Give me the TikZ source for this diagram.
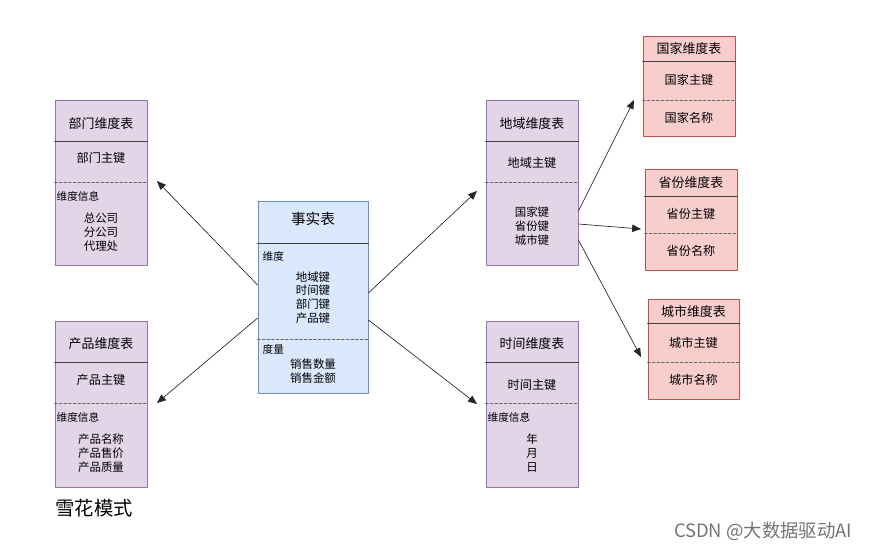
\documentclass[tikz,border=0pt]{standalone}
\usepackage{fontspec}
\setmainfont{Noto Sans CJK SC}
\usetikzlibrary{arrows,fit}

\definecolor{purplefill}{HTML}{E1D5E7}
\definecolor{purpleline}{HTML}{9673A6}
\definecolor{bluefill}{HTML}{DAE8FC}
\definecolor{blueline}{HTML}{6C8EBF}
\definecolor{redfill}{HTML}{F8CECC}
\definecolor{redline}{HTML}{B85450}

\newcommand\hdfont{\fontsize{9.7}{11}\selectfont}
\newcommand\keyfont{\fontsize{9.1}{10.5}\selectfont}
\newcommand\itemfont{\fontsize{8.6}{10.3}\selectfont}
\newcommand\infofont{\fontsize{8}{9.5}\selectfont}

\tikzset{
  dimbox/.style={draw=purpleline,fill=purplefill,line width=0.6pt,inner sep=0pt},
  factbox/.style={draw=blueline,fill=bluefill,line width=0.6pt,inner sep=0pt},
  subbox/.style={draw=redline,fill=redfill,line width=0.6pt,inner sep=0pt},
  sepline/.style={line width=0.6pt,color=black!75},
  dashline/.style={line width=0.6pt,color=black!60,dash pattern=on 2pt off 1.5pt},
  link/.style={->,line width=0.5pt,color=black!85},
  info/.style={anchor=west,inner sep=1pt,font=\infofont},
  items/.style={align=center,font=\itemfont,inner sep=0pt}
}

\begin{document}
\begin{tikzpicture}[line cap=round,line join=round,>=triangle 45,x=0.75pt,y=-0.75pt]
\useasboundingbox (0,0) rectangle (870,551);

% boxes
\node[dimbox,fit={(55,100) (147,265)}] (dept) {};
\node[dimbox,fit={(55,321) (147,487)}] (prod) {};
\node[factbox,fit={(258,201) (368,393)}] (fact) {};
\node[dimbox,fit={(486,100) (578,265)}] (region) {};
\node[dimbox,fit={(486,321) (578,487)}] (time) {};
\node[subbox,fit={(643,36) (735,136)}] (country) {};
\node[subbox,fit={(645,169) (737,270)}] (prov) {};
\node[subbox,fit={(648,299) (739,399)}] (city) {};

% dept
\draw[sepline] (dept.west |- 0,141) -- (dept.east |- 0,141);
\draw[dashline] (dept.west |- 0,182) -- (dept.east |- 0,182);
\node[font=\hdfont] (dept-hd) at (101,124) {部门维度表};
\node[font=\keyfont] (dept-key) at (101,158) {部门主键};
\node[info] (dept-info) at (55,196) {维度信息};
\node[items] (dept-it) at (101,232) {总公司\\分公司\\代理处};

% prod
\draw[sepline] (prod.west |- 0,362) -- (prod.east |- 0,362);
\draw[dashline] (prod.west |- 0,403) -- (prod.east |- 0,403);
\node[font=\hdfont] (prod-hd) at (101,344) {产品维度表};
\node[font=\keyfont] (prod-key) at (101,380) {产品主键};
\node[info] (prod-info) at (55,417) {维度信息};
\node[items] (prod-it) at (101,453) {产品名称\\产品售价\\产品质量};

% fact
\draw[sepline] (fact.west |- 0,243) -- (fact.east |- 0,243);
\draw[dashline] (fact.west |- 0,339) -- (fact.east |- 0,339);
\node[font=\fontsize{11}{12}\selectfont] (fact-hd) at (313,219) {事实表};
\node[info] (fact-dim) at (261,256) {维度};
\node[items] (fact-keys) at (313,297.5) {地域键\\时间键\\部门键\\产品键};
\node[info] (fact-mea) at (261,349) {度量};
\node[items] (fact-mv) at (313,371) {销售数量\\销售金额};

% region
\draw[sepline] (region.west |- 0,141) -- (region.east |- 0,141);
\draw[dashline] (region.west |- 0,182) -- (region.east |- 0,182);
\node[font=\hdfont] (region-hd) at (532,124) {地域维度表};
\node[font=\keyfont] (region-key) at (532,163) {地域主键};
\node[items] (region-it) at (532,226) {国家键\\省份键\\城市键};

% time
\draw[sepline] (time.west |- 0,362) -- (time.east |- 0,362);
\draw[dashline] (time.west |- 0,403) -- (time.east |- 0,403);
\node[font=\hdfont] (time-hd) at (532,344) {时间维度表};
\node[font=\keyfont] (time-key) at (532,385) {时间主键};
\node[info] (time-info) at (486,417) {维度信息};
\node[items] (time-it) at (532,453) {年\\月\\日};

% country / prov / city
\draw[sepline] (country.west |- 0,61) -- (country.east |- 0,61);
\draw[dashline] (country.west |- 0,100) -- (country.east |- 0,100);
\node[font=\hdfont] (country-hd) at (689,49) {国家维度表};
\node[font=\keyfont] (country-key) at (689,80) {国家主键};
\node[font=\keyfont] (country-name) at (689,118) {国家名称};

\draw[sepline] (prov.west |- 0,196) -- (prov.east |- 0,196);
\draw[dashline] (prov.west |- 0,233) -- (prov.east |- 0,233);
\node[font=\hdfont] (prov-hd) at (691,183) {省份维度表};
\node[font=\keyfont] (prov-key) at (691,214) {省份主键};
\node[font=\keyfont] (prov-name) at (691,251) {省份名称};

\draw[sepline] (city.west |- 0,323) -- (city.east |- 0,323);
\draw[dashline] (city.west |- 0,362) -- (city.east |- 0,362);
\node[font=\hdfont] (city-hd) at (693.5,312) {城市维度表};
\node[font=\keyfont] (city-key) at (693.5,343) {城市主键};
\node[font=\keyfont] (city-name) at (693.5,380) {城市名称};

% links
\coordinate (to-dept) at (157,181);
\coordinate (to-prod) at (157,403);
\coordinate (to-region) at (477,191);
\coordinate (to-time) at (477,404);
\coordinate (to-country) at (634,100);
\coordinate (to-prov) at (641,229);
\coordinate (to-city) at (641,357);
\draw[link] (fact.west |- 0,285) -- (to-dept);
\draw[link] (fact.west |- 0,318) -- (to-prod);
\draw[link] (fact.east |- 0,293) -- (to-region);
\draw[link] (fact.east |- 0,320) -- (to-time);
\draw[link] (region.east |- 0,211) -- (to-country);
\draw[link] (region.east |- 0,224) -- (to-prov);
\draw[link] (region.east |- 0,240) -- (to-city);

\node[font=\fontsize{14.5}{16}\selectfont] (caption) at (94,508) {雪花模式};
\node[anchor=east,font=\fontsize{13.8}{15}\selectfont,text=black!55] (mark) at (857,531) {CSDN @大数据驱动AI};
\end{tikzpicture}
\end{document}
